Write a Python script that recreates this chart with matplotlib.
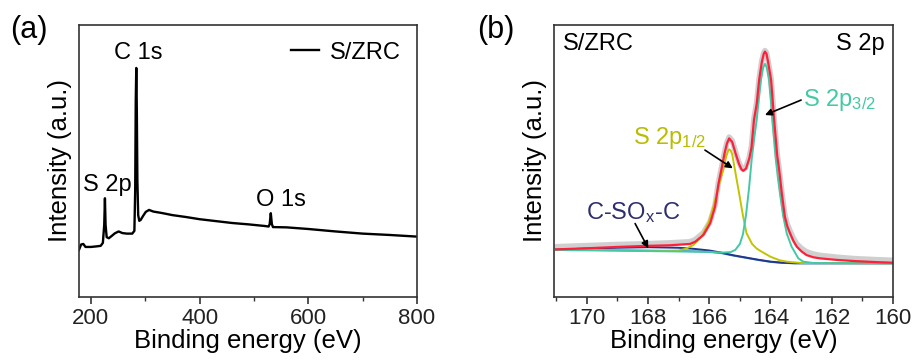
"""
XPS spectra of S/ZRC: (a) survey scan, (b) S 2p high-resolution fit.
"""

import matplotlib
matplotlib.use("Agg")
import matplotlib.pyplot as plt
from matplotlib.ticker import MultipleLocator

plt.rcParams["font.family"] = ["Liberation Sans", "DejaVu Sans"]
plt.rcParams["mathtext.fontset"] = "custom"
plt.rcParams["mathtext.rm"] = "Liberation Sans"
plt.rcParams["mathtext.it"] = "Liberation Sans"

# (a) survey spectrum (binding energy eV, intensity a.u.)
survey_ev = [178, 182, 186, 190, 200, 210, 218, 222, 224.5, 225.8, 227, 229, 233, 238,
             244, 251, 258, 266, 276, 280, 281.5, 282.5, 283.5, 284.5, 285.5, 287,
             289, 291.5, 296, 301, 307, 315, 330, 350, 375, 400, 430, 460, 490, 520,
             527, 529, 531, 533, 535, 560, 600, 650, 700, 750, 800]
survey_int = [17.3, 19.3, 19.5, 18.4, 18.4, 18.6, 18.8, 19.9, 26.5, 36.3, 26.5, 22.0, 21.6, 22.4,
              23.4, 24.1, 23.5, 23.3, 23.3, 24.3, 39.3, 72.0, 84.2, 68.8, 43.0, 30.1,
              28.0, 28.3, 29.8, 31.3, 32.0, 31.4, 30.9, 30.1, 29.4, 28.6, 27.9, 27.2, 26.7, 26.1,
              25.9, 26.8, 30.8, 26.8, 25.7, 25.6, 25.0, 24.1, 23.3, 22.8, 22.2]

# (b) S 2p region: measured data and fitted envelope
env_ev = [171, 170, 169, 168, 167.3, 166.63, 166.46, 166.19, 165.97, 165.81, 165.7,
          165.6, 165.5, 165.42, 165.35, 165.25, 165.14, 165.03, 164.95, 164.89, 164.8,
          164.69, 164.62, 164.54, 164.45, 164.37, 164.28, 164.22, 164.18, 164.13,
          164.08, 163.98, 163.88, 163.78, 163.72, 163.63, 163.53, 163.45, 163.36,
          163.25, 163.14, 162.98, 162.82, 162.6, 162.38, 161.8, 161.24, 160.5, 160]
raw_int = [18.5, 18.9, 19.3, 19.6, 19.9, 20.3, 21.1, 23.6, 27.8, 33.8, 42.0,
           47.5, 53.2, 56.9, 58.8, 57.5, 53.3, 49.5, 47.5, 46.9, 47.7,
           51.5, 55.5, 65.5, 71.5, 80.3, 87.0, 89.8, 90.6, 89.8,
           87.0, 80.3, 65.5, 52.5, 47.5, 38.7, 30.2, 26.8, 24.3,
           21.5, 19.5, 17.8, 16.6, 15.8, 15.3, 14.6, 14.1, 13.7, 13.5]
env_int = [17.5, 17.9, 18.4, 18.8, 19.0, 19.5, 20.3, 22.8, 27.1, 33.2, 41.5,
           47.0, 52.8, 56.5, 58.3, 57.0, 52.8, 49.0, 47.0, 46.4, 47.2,
           51.0, 55.0, 65.0, 71.0, 79.8, 86.5, 89.4, 90.2, 89.4,
           86.5, 79.8, 65.0, 52.0, 47.0, 38.1, 29.5, 26.0, 23.4,
           20.6, 18.5, 16.7, 15.4, 14.6, 14.2, 13.6, 13.2, 12.8, 12.6]

bg_ev = [171, 170, 169, 168, 167, 166.5, 166, 165.6, 165.2, 164.8, 164.4, 164.0,
         163.6, 163.2, 162, 161, 160]
bg_int = [17.3, 17.3, 17.2, 17.0, 16.9, 16.8, 16.6, 16.1, 15.2, 14.4, 13.6, 12.9,
          12.5, 12.4, 12.4, 12.4, 12.4]
sox_int = [17.4, 17.8, 18.1, 18.3, 18.1, 17.7, 17.1, 16.3, 15.3, 14.5, 13.7, 13.0,
           12.6, 12.4, 12.4, 12.4, 12.4]

p12_ev = [171, 169, 167.5, 167, 166.75, 166.52, 166.25, 166.03, 165.89, 165.8, 165.72,
          165.63, 165.54, 165.45, 165.38, 165.35, 165.3, 165.25, 165.16, 165.03, 164.9,
          164.78, 164.6, 164.45, 164.34, 164.0, 163.7, 163.47, 163, 160]
p12_int = [17.3, 17.2, 17.0, 17.1, 17.8, 19.1, 22.2, 27.1, 32.0, 36.0, 39.5,
           43.5, 46.7, 51.5, 53.8, 54.3, 53.9, 52.5, 46.7, 38.5, 30.0,
           23.4, 19.5, 17.8, 17.0, 14.8, 13.5, 13.0, 12.5, 12.4]

p32_ev = [171, 166, 165.6, 165.3, 165.15, 165.0, 164.9, 164.8, 164.7, 164.61, 164.53,
          164.45, 164.38, 164.31, 164.24, 164.18, 164.12, 164.05, 163.99, 163.94,
          163.88, 163.83, 163.76, 163.69, 163.58, 163.47, 163.31, 163.09, 162.93,
          162.6, 160]
p32_int = [17.3, 16.6, 16.3, 16.5, 17.3, 19.5, 23.0, 30.0, 40.0, 51.0, 58.5,
           65.0, 73.0, 79.8, 84.3, 85.7, 84.3, 79.8, 72.5, 65.0,
           57.5, 51.0, 44.0, 38.1, 29.5, 23.4, 18.5, 14.2, 13.0,
           12.5, 12.4]

fig = plt.figure(figsize=(9.17, 3.61), dpi=100)
ax1 = fig.add_axes([0.0861, 0.1773, 0.3686, 0.7535])
ax2 = fig.add_axes([0.6041, 0.1773, 0.3697, 0.7535])

for ax in (ax1, ax2):
    for sp in ax.spines.values():
        sp.set_color("#333333")
        sp.set_linewidth(1.2)
    ax.set_yticks([])
    ax.set_ylim(0, 100)
    ax.tick_params(axis="x", which="major", direction="out", length=5, width=1.1,
                   labelsize=16, colors="#222222", pad=3)
    ax.tick_params(axis="x", which="minor", direction="out", length=3, width=1.0,
                   colors="#333333")
    ax.set_xlabel("Binding energy (eV)", fontsize=18.5, labelpad=0)
    ax.set_ylabel("Intensity (a.u.)", fontsize=18.5, labelpad=5)

# (a) survey
ax1.plot(survey_ev, survey_int, color="black", lw=1.7, label="S/ZRC")
ax1.set_xlim(178, 800)
ax1.xaxis.set_major_locator(MultipleLocator(200))
ax1.xaxis.set_minor_locator(MultipleLocator(100))
ax1.legend(loc="upper right", frameon=False, fontsize=17, handlelength=1.2,
           handletextpad=0.45, borderaxespad=0.3)
ax1.text(286.6, 89.7, "C 1s", fontsize=17, ha="center", va="center")
ax1.text(231, 41, "S 2p", fontsize=17, ha="center", va="center")
ax1.text(550, 35.7, "O 1s", fontsize=17, ha="center", va="center")
ax1.text(-0.204, 0.98, "(a)", transform=ax1.transAxes, fontsize=22, ha="left", va="center")

# (b) S 2p fit
ax2.plot(env_ev, raw_int, color="#c4c4c4", lw=4, alpha=0.8, solid_capstyle="round")
ax2.plot(bg_ev, bg_int, color="#3b8fd4", lw=1.4)
ax2.plot(bg_ev, sox_int, color="#24358a", lw=1.4)
ax2.plot(p12_ev, p12_int, color="#c3c400", lw=1.4)
ax2.plot(p32_ev, p32_int, color="#43c9a3", lw=1.4)
ax2.plot(env_ev, env_int, color="#ff1f3a", lw=1.6)
ax2.set_xlim(171.07, 160)
ax2.xaxis.set_major_locator(MultipleLocator(2))
ax2.xaxis.set_minor_locator(MultipleLocator(1))

ax2.text(0.025, 0.93, "S/ZRC", transform=ax2.transAxes, fontsize=17, ha="left", va="center")
ax2.text(0.975, 0.93, "S 2p", transform=ax2.transAxes, fontsize=17, ha="right", va="center")
ax2.text(-0.227, 0.98, "(b)", transform=ax2.transAxes, fontsize=22, ha="left", va="center")

arrow = dict(arrowstyle="-|>", color="black", lw=1.2, mutation_scale=10, shrinkA=0, shrinkB=0)
ax2.annotate("", xy=(164.18, 66.9), xytext=(163.0, 72.4), arrowprops=arrow)
ax2.text(162.94, 72.4, r"S 2p$_{\mathrm{3/2}}$", color="#43c9a3", fontsize=17,
         ha="left", va="center")
ax2.annotate("", xy=(165.23, 47.3), xytext=(166.14, 54.0), arrowprops=arrow)
ax2.text(168.49, 58.5, r"S 2p$_{\mathrm{1/2}}$", color="#b9bc00", fontsize=17,
         ha="left", va="center")
ax2.annotate("", xy=(167.99, 17.9), xytext=(168.42, 27.0), arrowprops=arrow)
ax2.text(170.02, 30.9, r"C-SO$_{\mathrm{x}}$-C", color="#2e2e6e", fontsize=17,
         ha="left", va="center")

fig.savefig("out.png", dpi=100)
